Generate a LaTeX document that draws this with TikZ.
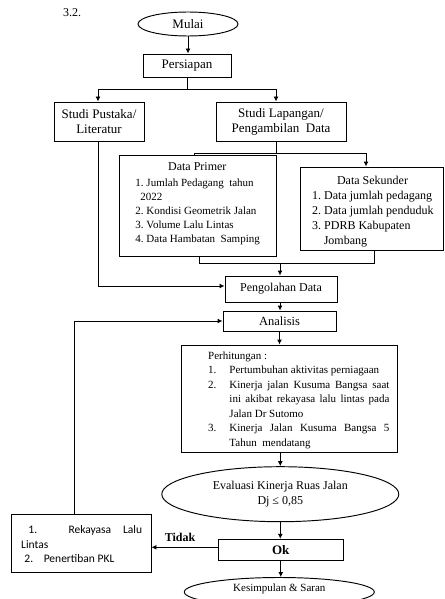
\documentclass[tikz,border=0pt]{standalone}
\usepackage{fontspec}
\setmainfont{Liberation Serif}
\newfontfamily\calib{Carlito}
\usetikzlibrary{shapes.geometric,arrows.meta}
\newcommand\myfs[2]{\fontsize{#1}{#2}\selectfont}
\begin{document}
\begin{tikzpicture}[x=1pt,y=-1pt,line width=0.95pt,
  arr/.style={-{Latex[length=5pt,width=5pt]}},
  box/.style={draw,rectangle,inner sep=0pt,align=center,font=\myfs{13}{15}},
  oval/.style={draw,ellipse,inner sep=0pt,align=center,font=\myfs{13}{15}},
  txt/.style={anchor=north west,inner sep=0pt,align=left}]
\useasboundingbox (0,0) rectangle (444,599);
\node[anchor=base,font=\myfs{12}{14}] (num) at (72,16.5) {3.2.};
\node[oval,minimum width=100,minimum height=24] (mulai) at (188,24) {Mulai};
\node[box,minimum width=88,minimum height=23] (persiapan) at (187,65.5) {Persiapan};
\node[box,minimum width=90,minimum height=39] (pustaka) at (99,121.5) {Studi Pustaka/\\Literatur};
\node[box,minimum width=130,minimum height=39] (lapangan) at (281,121.5) {Studi Lapangan/\\Pengambilan\ \ Data};
\node[box,minimum width=156.7,minimum height=101] (primer) at (198.3,205.5) {};
\node[box,minimum width=143.5,minimum height=83.7] (sekunder) at (371.75,208.85) {};
\node[box,minimum width=112,minimum height=26,font=\myfs{12}{14}] (pengolahan) at (281,289) {Pengolahan Data};
\node[box,minimum width=113,minimum height=20,font=\myfs{12.5}{14}] (analisis) at (279.5,321) {Analisis};
\node[box,minimum width=216,minimum height=107.7] (hitung) at (289.7,398.85) {};
\node[oval,minimum width=237,minimum height=55,font=\myfs{12}{15.5}] (evaluasi) at (280.3,494.2) {Evaluasi Kinerja Ruas Jalan\\Dj ≤ 0,85};
\node[box,minimum width=125,minimum height=20.7,font=\bfseries\myfs{13}{15}] (ok) at (280.8,549.65) {Ok};
\node[box,minimum width=139.3,minimum height=58.7] (rekayasa) at (81.35,543.35) {};
\node[oval,minimum width=190,minimum height=29] (kesimpulan) at (279.3,592) {};
% texts inside boxes
\node[font=\myfs{11}{13}] (kesT) at (279.3,588.5) {Kesimpulan \& Saran};
\node[anchor=base,font=\myfs{12}{14}] (primerT) at (197.3,170) {Data Primer};
\node[txt,font=\myfs{11}{14}] (primerL) at (135,178.5) {1.\ Jumlah Pedagang\ \ tahun\\\hspace*{5pt}2022\\2.\ Kondisi Geometrik Jalan\\3.\ Volume Lalu Lintas\\4.\ Data Hambatan\ \ Samping};
\node[anchor=base,font=\myfs{12}{15}] (sekT) at (372.5,184.5) {Data Sekunder};
\node[txt,font=\myfs{12}{15}] (sekL) at (311.7,190.5) {1.\ Data jumlah pedagang\\2.\ Data jumlah penduduk\\3.\ PDRB Kabupaten\\\hspace*{11.6pt}Jombang};
\node[txt,font=\myfs{11}{14.5}] (hitungL) at (207.7,351) {Perhitungan :\\
\makebox[21.3pt][l]{1.}Pertumbuhan aktivitas perniagaan\\
\makebox[21.3pt][l]{2.}\makebox[160pt][s]{Kinerja jalan Kusuma Bangsa saat}\\
\hspace*{21.3pt}\makebox[160pt][s]{ini akibat rekayasa lalu lintas pada}\\
\hspace*{21.3pt}Jalan Dr Sutomo\\
\makebox[21.3pt][l]{3.}\makebox[160pt][s]{Kinerja Jalan Kusuma Bangsa 5}\\
\hspace*{21.3pt}Tahun\ \ mendatang};
\node[txt,font=\calib\myfs{11.5}{14.5}] (rekL) at (20.7,525.5) {\hspace*{7.3pt}\makebox[113.7pt][s]{1. Rekayasa Lalu}\\Lintas\\\hspace*{3.3pt}\makebox[19.3pt][l]{2.}Penertiban PKL};
% connectors
\draw[arr] (mulai.south) -- (mulai.south |- persiapan.north);
\coordinate (j1) at (187,89);
\draw (persiapan.south) -- (j1);
\draw[arr] (j1) -| ([xshift=-1pt]pustaka.north);
\draw[arr] (j1) -| ([xshift=-5pt]lapangan.north);
\coordinate (j2) at (276.7,153);
\draw ([xshift=-4.3pt]lapangan.south) -- (j2);
\draw (j2) -| ([xshift=-4.3pt]primer.north);
\draw[arr] (j2) -| ([xshift=-5.75pt]sekunder.north);
\coordinate (j3) at (280,263);
\draw ([xshift=0.7pt]primer.south) |- (j3);
\draw ([xshift=2.25pt]sekunder.south) |- (j3);
\draw[arr] (j3) -- (j3 |- pengolahan.north);
\draw[arr] ([xshift=-1pt]pustaka.south) |- ([yshift=3pt]pengolahan.west);
\draw[arr] ([xshift=-1pt]pengolahan.south) -- ([xshift=-1pt]pengolahan.south |- analisis.north);
\draw[arr] (analisis.south) -- (analisis.south |- hitung.north);
\draw[arr] (evaluasi.north |- hitung.south) -- (evaluasi.north);
\draw[arr] (evaluasi.south) -- (evaluasi.south |- ok.north);
\draw[arr] (ok.south) -- (ok.south |- kesimpulan.north);
\draw[arr] ([yshift=2.35pt]ok.west) -- ([yshift=2.35pt]ok.west -| rekayasa.east) node[pos=0.57,above,font=\bfseries\myfs{12}{14},inner sep=5pt] {Tidak};
\draw[arr] ([xshift=-7.35pt]rekayasa.north) |- (analisis.west);
\end{tikzpicture}
\end{document}
